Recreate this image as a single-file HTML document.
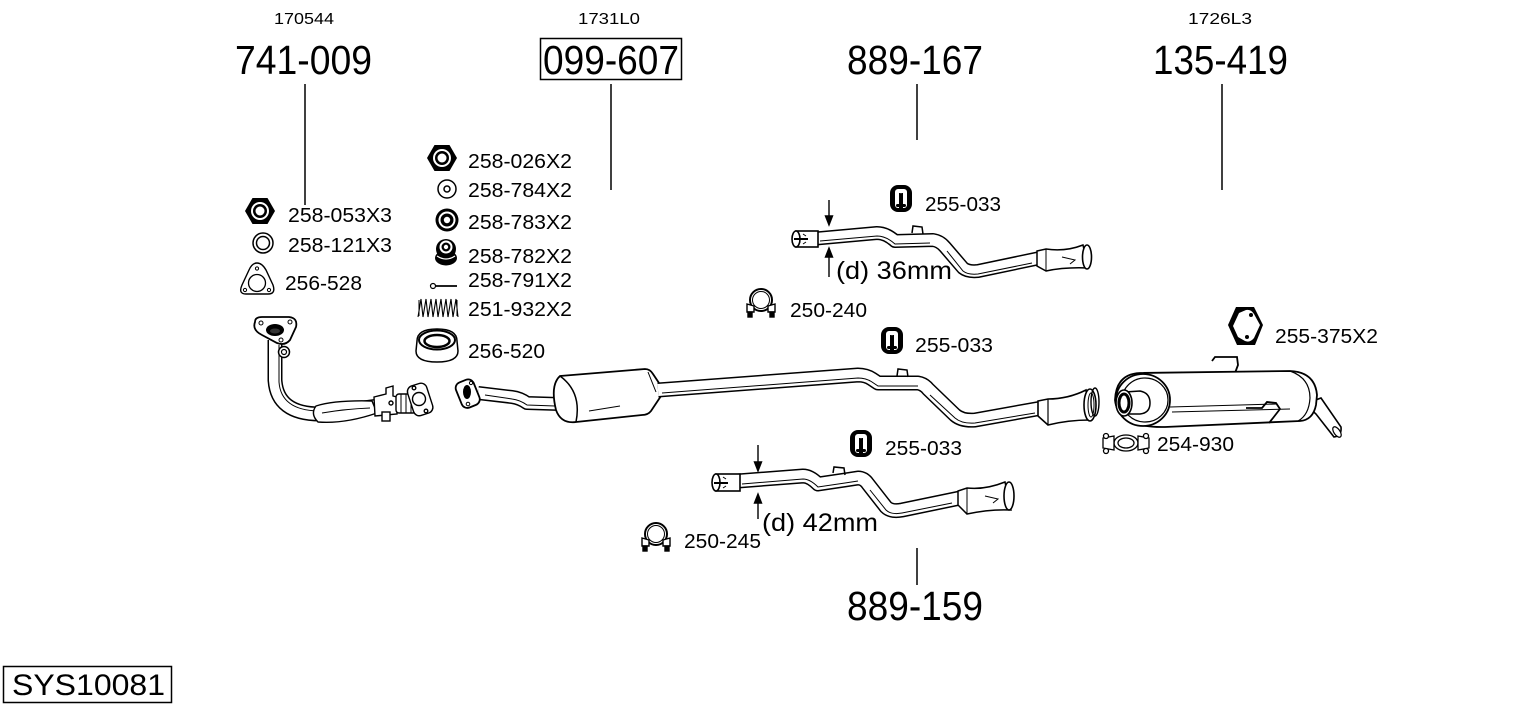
<!DOCTYPE html>
<html><head><meta charset="utf-8"><style>
html,body{margin:0;padding:0;background:#fff;}
svg{display:block;}
text{font-family:"Liberation Sans",Arial,sans-serif;fill:#000;}
</style></head><body>
<svg width="1530" height="711" viewBox="0 0 1530 711" xmlns="http://www.w3.org/2000/svg">
<defs>
<g id="hanger">
<rect x="0" y="0" width="22" height="27" rx="8" fill="#000"/>
<rect x="5" y="4" width="12" height="19" rx="3" fill="#fff"/>
<rect x="9" y="8" width="4" height="15" fill="#000"/>
<circle cx="11" cy="6.5" r="1.8" fill="#fff"/>
<rect x="6" y="19" width="10" height="3" rx="1.5" fill="#000"/>
</g>
<g id="clamp" fill="#fff" stroke="#000" stroke-width="1.4">
<circle cx="16" cy="12" r="11" stroke-width="2"/>
<circle cx="16" cy="12" r="8.5" fill="none" stroke-width="1"/>
<path d="M2 16 L9 18 L9 24 L2 24 Z"/>
<path d="M30 16 L23 18 L23 24 L30 24 Z"/>
<rect x="3" y="24" width="4" height="5" fill="#000"/>
<rect x="25" y="24" width="4" height="5" fill="#000"/>
</g>
</defs>

<!-- top labels -->
<text x="274" y="24" font-size="16" textLength="60" lengthAdjust="spacingAndGlyphs">170544</text>
<text x="578" y="24" font-size="16" textLength="62" lengthAdjust="spacingAndGlyphs">1731L0</text>
<text x="1188" y="24" font-size="16" textLength="64" lengthAdjust="spacingAndGlyphs">1726L3</text>
<text x="235" y="74" font-size="41" textLength="137" lengthAdjust="spacingAndGlyphs">741-009</text>
<rect x="540.5" y="38.5" width="141" height="41" fill="none" stroke="#000" stroke-width="1.5"/>
<text x="543" y="74" font-size="41" textLength="136" lengthAdjust="spacingAndGlyphs">099-607</text>
<text x="847" y="74" font-size="41" textLength="136" lengthAdjust="spacingAndGlyphs">889-167</text>
<text x="1153" y="74" font-size="41" textLength="135" lengthAdjust="spacingAndGlyphs">135-419</text>
<text x="847" y="620" font-size="41" textLength="136" lengthAdjust="spacingAndGlyphs">889-159</text>

<rect x="3.5" y="666.5" width="168" height="36" fill="none" stroke="#000" stroke-width="1.5"/>
<text x="12" y="695" font-size="30" textLength="153" lengthAdjust="spacingAndGlyphs">SYS10081</text>

<!-- leader lines -->
<g stroke="#000" stroke-width="1.5">
<line x1="305" y1="84" x2="305" y2="205"/>
<line x1="611" y1="84" x2="611" y2="190"/>
<line x1="917" y1="84" x2="917" y2="140"/>
<line x1="1222" y1="84" x2="1222" y2="190"/>
<line x1="917" y1="548" x2="917" y2="585"/>
</g>

<!-- part labels -->
<g font-size="20">
<text x="288" y="222" textLength="104" lengthAdjust="spacingAndGlyphs">258-053X3</text>
<text x="288" y="252" textLength="104" lengthAdjust="spacingAndGlyphs">258-121X3</text>
<text x="285" y="290" textLength="77" lengthAdjust="spacingAndGlyphs">256-528</text>
<text x="468" y="168" textLength="104" lengthAdjust="spacingAndGlyphs">258-026X2</text>
<text x="468" y="197" textLength="104" lengthAdjust="spacingAndGlyphs">258-784X2</text>
<text x="468" y="229" textLength="104" lengthAdjust="spacingAndGlyphs">258-783X2</text>
<text x="468" y="263" textLength="104" lengthAdjust="spacingAndGlyphs">258-782X2</text>
<text x="468" y="287" textLength="104" lengthAdjust="spacingAndGlyphs">258-791X2</text>
<text x="468" y="316" textLength="104" lengthAdjust="spacingAndGlyphs">251-932X2</text>
<text x="468" y="358" textLength="77" lengthAdjust="spacingAndGlyphs">256-520</text>
<text x="925" y="211" textLength="76" lengthAdjust="spacingAndGlyphs">255-033</text>
<text x="790" y="317" textLength="77" lengthAdjust="spacingAndGlyphs">250-240</text>
<text x="915" y="352" textLength="78" lengthAdjust="spacingAndGlyphs">255-033</text>
<text x="1275" y="343" textLength="103" lengthAdjust="spacingAndGlyphs">255-375X2</text>
<text x="1157" y="451" textLength="77" lengthAdjust="spacingAndGlyphs">254-930</text>
<text x="885" y="455" textLength="77" lengthAdjust="spacingAndGlyphs">255-033</text>
<text x="684" y="548" textLength="77" lengthAdjust="spacingAndGlyphs">250-245</text>
</g>
<text x="836" y="279" font-size="25" textLength="116" lengthAdjust="spacingAndGlyphs">(d) 36mm</text>
<text x="762" y="531" font-size="25" textLength="116" lengthAdjust="spacingAndGlyphs">(d) 42mm</text>

<!-- small parts icons -->
<polygon points="245,211 252.5,198 267.5,198 275,211 267.5,224 252.5,224" fill="#000"/>
<circle cx="260" cy="211" r="9" fill="#fff"/><circle cx="260" cy="211" r="7" fill="#000"/><circle cx="260" cy="211" r="4.5" fill="#fff"/>
<circle cx="263" cy="243" r="10" fill="#fff" stroke="#000" stroke-width="1.5"/>
<circle cx="263" cy="243" r="6.5" fill="none" stroke="#000" stroke-width="1.5"/>
<path d="M257 263 Q262 263 266 270 L273 285 Q276 294 268 294 L246 294 Q238 294 242 285 L249 270 Q252 263 257 263 Z" fill="#fff" stroke="#000" stroke-width="1.4"/>
<circle cx="257" cy="283" r="8.5" fill="none" stroke="#000" stroke-width="1.3"/>
<circle cx="257" cy="268.5" r="1.6" fill="none" stroke="#000"/><circle cx="245" cy="290" r="1.6" fill="none" stroke="#000"/><circle cx="269" cy="290" r="1.6" fill="none" stroke="#000"/>

<polygon points="427,158 434.5,145 449.5,145 457,158 449.5,171 434.5,171" fill="#000"/>
<circle cx="442" cy="158" r="9" fill="#fff"/><circle cx="442" cy="158" r="7" fill="#000"/><circle cx="442" cy="158" r="4.5" fill="#fff"/>
<circle cx="447" cy="189" r="9" fill="#fff" stroke="#000" stroke-width="1.5"/>
<circle cx="447" cy="189" r="3" fill="none" stroke="#000" stroke-width="1.5"/>
<circle cx="447" cy="220" r="11.5" fill="#000"/><circle cx="447" cy="220" r="8.5" fill="#fff"/><circle cx="447" cy="220" r="6.5" fill="#000"/><circle cx="447" cy="220" r="3.2" fill="#fff"/>
<ellipse cx="446" cy="258" rx="11" ry="7.5" fill="#000"/>
<circle cx="446" cy="249" r="10" fill="#000"/>
<path d="M437 256 Q446 262 455 256" stroke="#fff" stroke-width="1.2" fill="none"/>
<circle cx="446" cy="247" r="6.5" fill="#fff"/><circle cx="446" cy="247" r="4.5" fill="#000"/><circle cx="446" cy="247" r="2.2" fill="#fff"/>
<circle cx="433" cy="286" r="2.5" fill="#fff" stroke="#000" stroke-width="1.2"/>
<line x1="435" y1="286" x2="457" y2="286" stroke="#000" stroke-width="1.8"/>
<path d="M418 317 L421 299 L423 317 L426 299 L428 317 L431 299 L433 317 L436 299 L438 317 L441 299 L443 317 L446 299 L448 317 L451 299 L453 317 L456 299 L458 317" fill="none" stroke="#000" stroke-width="1.1"/>
<path d="M419 300 L419 316 M457 300 L457 316" stroke="#000" stroke-width="1"/>
<path d="M417 341 Q417 329 437 329 Q457 329 457 341 L458 351 Q458 362 437 362 Q416 362 416 351 Z" fill="#fff" stroke="#000" stroke-width="1.5"/>
<ellipse cx="437" cy="340" rx="18" ry="9.5" fill="none" stroke="#000" stroke-width="2"/>
<ellipse cx="437" cy="341" rx="12.5" ry="6" fill="none" stroke="#000" stroke-width="2.5"/>

<use href="#hanger" x="890" y="185"/>
<use href="#hanger" x="881" y="327"/>
<use href="#hanger" x="850" y="430"/>
<use href="#clamp" x="745" y="288"/>
<use href="#clamp" x="640" y="522"/>

<!-- 255-375X2 -->
<polygon points="1236,307 1254,307 1263,325 1255,345 1237,345 1228,325" fill="#000"/>
<path d="M1246 310 Q1251 309 1254 314 L1260 325 L1254 338 Q1250 343 1245 341 L1238 337 L1233 326 L1239 313 Z" fill="#fff"/>
<circle cx="1251" cy="315" r="2" fill="#000"/><circle cx="1247" cy="337" r="2" fill="#000"/>

<!-- 254-930 clamp -->
<g fill="#fff" stroke="#000" stroke-width="1.3">
<ellipse cx="1126" cy="443" rx="12" ry="8"/>
<ellipse cx="1126" cy="443" rx="8" ry="5"/>
<path d="M1103 438 L1114 436 L1114 450 L1103 448 Z"/>
<path d="M1149 438 L1138 436 L1138 450 L1149 448 Z"/>
<circle cx="1106" cy="436" r="2.5"/><circle cx="1106" cy="451" r="2.5"/>
<circle cx="1146" cy="436" r="2.5"/><circle cx="1146" cy="451" r="2.5"/>
</g>

<!-- arrows -->
<g stroke="#000" stroke-width="1.4" fill="#000">
<line x1="829" y1="200" x2="829" y2="219"/>
<path d="M825.5 216 L829 225 L832.5 216 Z"/>
<line x1="829" y1="254" x2="829" y2="277"/>
<path d="M825.5 257 L829 248 L832.5 257 Z"/>
<line x1="758" y1="445" x2="758" y2="465"/>
<path d="M754.5 462 L758 471 L761.5 462 Z"/>
<line x1="758" y1="500" x2="758" y2="519"/>
<path d="M754.5 503 L758 494 L761.5 503 Z"/>
</g>

<!-- FRONT PIPE 741-009 -->
<path d="M275 340 L275 380 Q277 414 320 414 L378 406" fill="none" stroke="#000" stroke-width="15" stroke-linejoin="round"/>
<path d="M275 340 L275 380 Q277 414 320 414 L378 406" fill="none" stroke="#fff" stroke-width="12" stroke-linejoin="round"/>
<path d="M279 345 L279 382 Q281 410 318 411" fill="none" stroke="#000" stroke-width="1"/>
<path d="M316 406 Q335 400 372 401 L377 413 Q345 424 318 422 Q310 414 316 406 Z" fill="#fff" stroke="#000" stroke-width="1.4"/>
<path d="M322 413 Q345 409 370 408" fill="none" stroke="#000" stroke-width="1"/>
<path d="M255 322 Q252 330 262 335 L277 343 Q285 346 290 340 L296 327 Q298 318 289 317 L262 317 Q255 317 255 322 Z" fill="#fff" stroke="#000" stroke-width="1.8"/>
<ellipse cx="275" cy="330" rx="9" ry="6" fill="#000"/>
<ellipse cx="275" cy="331" rx="5" ry="2.5" fill="#333"/>
<circle cx="261" cy="323" r="2" fill="#fff" stroke="#000"/><circle cx="290" cy="322" r="2" fill="#fff" stroke="#000"/><circle cx="281" cy="340" r="2" fill="#fff" stroke="#000"/>
<circle cx="284" cy="352" r="5.5" fill="#fff" stroke="#000" stroke-width="1.5"/>
<circle cx="284" cy="352" r="2.5" fill="none" stroke="#000" stroke-width="1.2"/>
<!-- bracket + flex -->
<g fill="#fff" stroke="#000" stroke-width="1.4">
<path d="M374 397 L386 394 L386 388 L393 386 L393 396 L397 397 L397 414 L375 416 Z"/>
<circle cx="391" cy="403" r="2"/>
<rect x="382" y="412" width="8" height="9"/>
<rect x="396" y="394" width="20" height="19" rx="3"/>
<path d="M401 394 L401 413 M406 394 L406 413 M411 394 L411 413" stroke-width="1"/>
<rect x="410" y="384" width="20" height="31" rx="6" transform="rotate(-18 420 399)"/>
<circle cx="419" cy="399" r="6.5"/>
<circle cx="414" cy="388" r="1.8"/><circle cx="426" cy="411" r="1.8"/>
</g>

<!-- CAT PIPE 099-607 -->
<path d="M478 393 L512 397 Q520 398 527 403 L560 404" fill="none" stroke="#000" stroke-width="14" stroke-linejoin="round"/>
<path d="M478 393 L512 397 Q520 398 527 403 L560 404" fill="none" stroke="#fff" stroke-width="11" stroke-linejoin="round"/>
<path d="M485 395 L512 399 Q520 400 527 405 L555 406" fill="none" stroke="#000" stroke-width="1"/>
<rect x="458" y="380" width="19" height="27" rx="6" transform="rotate(-22 468 393)" fill="#fff" stroke="#000" stroke-width="1.8"/>
<ellipse cx="467" cy="392" rx="4" ry="7" fill="#000"/>
<circle cx="471" cy="383" r="1.6" fill="#fff" stroke="#000"/><circle cx="468" cy="404" r="1.8" fill="#fff" stroke="#000"/>
<path d="M560 376 L645 369 Q650 369 653 374 L661 386 L661 396 L651 411 Q648 415 642 415 L576 422 Q561 424 556 410 Q550 385 560 376 Z" fill="#fff" stroke="#000" stroke-width="1.8"/>
<path d="M560 376 Q582 392 576 422" fill="none" stroke="#000" stroke-width="1.5"/>
<path d="M589 411 L620 406 M648 372 L656 392" fill="none" stroke="#000" stroke-width="1"/>

<!-- MIDDLE LONG PIPE -->
<path d="M658 390 L858 375 Q866 375 872 379 L878 383 L918 383 Q924 384 928 389 L955 415 Q962 421 975 420 L1042 408" fill="none" stroke="#000" stroke-width="15" stroke-linejoin="round"/>
<path d="M658 390 L858 375 Q866 375 872 379 L878 383 L918 383 Q924 384 928 389 L955 415 Q962 421 975 420 L1042 408" fill="none" stroke="#fff" stroke-width="12" stroke-linejoin="round"/>
<path d="M662 393 L858 378 Q866 378 872 382 L878 386 L918 386 M930 395 L955 418 Q962 424 975 423 L1035 413" fill="none" stroke="#000" stroke-width="1"/>
<path d="M897 376 L898 369 L907 370 L908 377" fill="none" stroke="#000" stroke-width="1.5"/>
<path d="M1038 401 L1048 399 Q1068 399 1086 390 L1090 420 Q1068 420 1048 425 L1038 416 Z" fill="#fff" stroke="#000" stroke-width="1.6"/>
<path d="M1048 399 L1048 425" stroke="#000" stroke-width="1.2"/>
<ellipse cx="1090" cy="405" rx="6" ry="16" fill="#fff" stroke="#000" stroke-width="1.6"/>
<ellipse cx="1091" cy="405" rx="3" ry="12" fill="none" stroke="#000" stroke-width="1"/>

<!-- TOP PIPE 889-167 -->
<path d="M816 238.5 L877 233 Q886 233 895 241 L933 240 Q940 241 945 247 L963 268 Q968 272 978 271 L1040 258" fill="none" stroke="#000" stroke-width="14" stroke-linejoin="round"/>
<path d="M816 238.5 L877 233 Q886 233 895 241 L933 240 Q940 241 945 247 L963 268 Q968 272 978 271 L1040 258" fill="none" stroke="#fff" stroke-width="11" stroke-linejoin="round"/>
<path d="M820 241 L877 236 Q886 236 895 244 L930 243 M947 251 L963 271 Q968 275 978 274 L1032 263" fill="none" stroke="#000" stroke-width="1"/>
<path d="M912 233 L913 226 L922 227 L923 234" fill="none" stroke="#000" stroke-width="1.5"/>
<path d="M1037 251 L1046 249 Q1065 252 1083 245 L1088 268 Q1065 267 1046 271 L1037 266 Z" fill="#fff" stroke="#000" stroke-width="1.5"/>
<path d="M1046 249 L1046 271 M1062 257 L1075 260 L1070 264" fill="none" stroke="#000" stroke-width="1"/>
<ellipse cx="1087" cy="257" rx="4.5" ry="12" fill="#fff" stroke="#000" stroke-width="1.6"/>
<rect x="796" y="231" width="22" height="16" fill="#fff" stroke="#000" stroke-width="1.6"/>
<ellipse cx="796" cy="239" rx="4" ry="8" fill="#fff" stroke="#000" stroke-width="1.6"/>
<path d="M794 239 L808 239" stroke="#000" stroke-width="2"/>
<path d="M803 234 L806 236 M803 244 L806 242" stroke="#000" stroke-width="1"/>

<!-- BOTTOM PIPE 889-159 -->
<path d="M738 481 L803 476 Q810 476 818 484 L845 480 L858 478 Q864 478 868 484 L886 507 Q891 512 902 510 L960 498" fill="none" stroke="#000" stroke-width="15" stroke-linejoin="round"/>
<path d="M738 481 L803 476 Q810 476 818 484 L845 480 L858 478 Q864 478 868 484 L886 507 Q891 512 902 510 L960 498" fill="none" stroke="#fff" stroke-width="12" stroke-linejoin="round"/>
<path d="M742 484 L803 479 Q810 479 818 487 L845 483 L858 481 M870 490 L886 510 Q891 515 902 513 L952 503" fill="none" stroke="#000" stroke-width="1"/>
<path d="M833 473 L834 467 L844 468 L845 475" fill="none" stroke="#000" stroke-width="1.5"/>
<path d="M958 491 L967 488 Q985 490 1005 482 L1011 510 Q990 509 967 514 L958 505 Z" fill="#fff" stroke="#000" stroke-width="1.5"/>
<path d="M967 488 L967 514 M985 496 L998 499 L993 503" fill="none" stroke="#000" stroke-width="1"/>
<ellipse cx="1009" cy="496" rx="5" ry="14" fill="#fff" stroke="#000" stroke-width="1.6"/>
<rect x="716" y="474" width="24" height="17" fill="#fff" stroke="#000" stroke-width="1.6"/>
<ellipse cx="716" cy="482.5" rx="4" ry="8.5" fill="#fff" stroke="#000" stroke-width="1.6"/>
<path d="M714 483 L728 483" stroke="#000" stroke-width="2"/>
<path d="M723 477 L726 479 M723 488 L726 486" stroke="#000" stroke-width="1"/>

<!-- REAR MUFFLER 135-419 -->
<path d="M1212 361 L1215 357 L1237 357 L1238 365 L1235 373" fill="none" stroke="#000" stroke-width="1.8"/>
<path d="M1305 404 L1321 398 L1341 427 Q1342 436 1334 437 L1316 414 Z" fill="#fff" stroke="#000" stroke-width="1.6"/>
<ellipse cx="1337" cy="432" rx="3" ry="6" transform="rotate(-35 1337 432)" fill="#fff" stroke="#000" stroke-width="1.2"/>
<path d="M1140 373 L1290 371 Q1315 372 1317 395 L1316 405 Q1313 420 1300 421 L1165 427 Q1118 428 1115 400 Q1116 374 1140 373 Z" fill="#fff" stroke="#000" stroke-width="1.8"/>
<path d="M1290 371 Q1310 378 1310 398 Q1309 415 1298 421" fill="none" stroke="#000" stroke-width="1.2"/>
<ellipse cx="1143" cy="400" rx="27" ry="26" fill="#fff" stroke="#000" stroke-width="1.8"/>
<ellipse cx="1145" cy="400" rx="23" ry="22" fill="none" stroke="#000" stroke-width="1.2"/>
<path d="M1170 407 L1277 404 M1172 412 L1290 409" fill="none" stroke="#000" stroke-width="1"/>
<path d="M1125 392 L1140 391 Q1150 393 1150 403 Q1150 413 1140 414 L1125 414 Z" fill="#fff" stroke="#000" stroke-width="1.5"/>
<ellipse cx="1124" cy="403" rx="8" ry="13" fill="#fff" stroke="#000" stroke-width="1.6"/>
<ellipse cx="1124" cy="403" rx="5" ry="9" fill="none" stroke="#000" stroke-width="3"/>
<path d="M1246 408 L1262 408 L1267 402 L1276 403 L1280 409 L1273 418 L1269 423" fill="none" stroke="#000" stroke-width="1.8"/>
<ellipse cx="1095" cy="402" rx="4" ry="14" fill="none" stroke="#000" stroke-width="1.4"/>
</svg>
</body></html>
